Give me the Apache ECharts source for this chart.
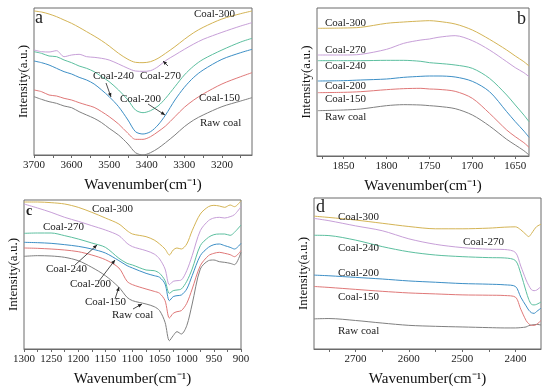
<!DOCTYPE html>
<html><head><meta charset="utf-8">
<script src="https://cdn.jsdelivr.net/npm/echarts@6/dist/echarts.min.js"></script>
<style>html,body{margin:0;padding:0;background:#fff}#c{width:550px;height:388px}</style>
</head><body><div id="c"></div>
<script>
// ---------- DATA ----------
const seriesNames = ['Raw coal','Coal-150','Coal-200','Coal-240','Coal-270','Coal-300'];
const seriesColors = ['#808080','#e07878','#3d8fc6','#5cbf9f','#c79fd8','#d4b455'];

// Panel a (3700-3120)
const waveA = [3700,3680,3660,3640,3620,3600,3580,3560,3540,3520,3500,3475,3450,3430,3410,3390,3370,3350,3325,3300,3275,3250,3200,3150,3120];
const aRaw = [175,167,160,155,147,142,130,120,110,97,80,60,33,7,0,7,20,37,60,85,105,120,145,162,172];
const a150 = [195,190,180,177,170,165,157,150,143,130,115,93,65,47,47,55,70,87,115,143,165,183,213,235,247];
const a200 = [282,277,270,260,250,243,233,225,213,195,175,145,105,70,63,70,90,120,165,203,233,255,287,307,317];
const a240 = [310,305,297,295,285,277,267,260,250,235,220,195,165,135,127,133,147,170,205,240,267,287,315,339,350];
const a270 = [315,310,309,313,295,300,302,295,293,290,285,273,260,252,251,253,265,283,300,317,333,347,368,387,397];
const a300 = [432,429,423,415,405,395,383,370,357,343,327,305,287,278,277,280,290,305,325,347,367,383,408,424,432];
const ticksA = [3700,3600,3500,3400,3300,3200];

// Panel b (1881-1634)
const waveB = [1880,1850,1830,1800,1780,1760,1750,1740,1720,1700,1680,1660,1650,1640,1634];
const bRaw = [136,138,141,151,154,153,151,149,142,123,90,50,33,16,3];
const b150 = [190,191,193,199,202,203,201,200,194,173,128,78,58,40,26];
const b200 = [225,226,228,231,236,239,240,240,237,224,193,133,103,75,56];
const b240 = [286,286,286,287,287,284,280,278,273,263,233,183,153,123,103];
const b270 = [303,303,305,320,338,348,351,356,361,346,318,283,265,250,238];
const b300 = [383,384,386,398,402,405,406,404,396,378,350,318,300,283,270];
const ticksB = [1850,1800,1750,1700,1650];

// Panel c (1300-900)
const waveC = [1300,1275,1250,1225,1200,1175,1150,1125,1110,1100,1075,1060,1050,1040,1032,1025,1018,1010,1000,990,975,960,950,940,930,920,912,900];
const cRaw = [278,280,279,275,265,245,220,185,155,145,135,127,115,80,25,40,52,45,70,135,240,265,267,262,260,257,253,290];
const c150 = [303,302,300,297,292,282,268,243,203,193,180,173,167,145,93,107,112,115,137,180,250,280,287,290,287,283,277,295];
const c200 = [320,319,317,313,308,300,288,265,250,243,227,220,215,195,145,157,160,162,180,220,280,305,313,315,310,305,300,317];
const c240 = [347,348,348,340,330,318,305,272,257,252,237,235,227,205,167,175,177,180,203,240,310,335,343,345,345,341,350,372];
const c270 = [435,423,410,395,383,370,357,340,317,307,295,285,270,240,193,203,205,207,235,280,355,385,393,395,393,397,403,427];
const c300 = [441,441,439,435,425,410,393,375,355,345,337,327,315,300,282,297,303,300,315,355,405,427,431,429,425,432,427,445];
const ticksC = [1300,1250,1200,1150,1100,1050,1000,950,900];

// Panel d (2778-2352)
const waveD = [2778,2750,2700,2650,2600,2550,2500,2450,2420,2400,2390,2380,2375,2370,2365,2360,2352];
const dRaw = [93,94,88,80,73,70,68,66,65,65,66,68,72,74,75,76,74];
const d150 = [193,190,184,178,173,170,167,166,165,160,123,88,78,73,73,76,88];
const d200 = [228,226,221,216,210,206,202,200,198,193,160,133,120,112,110,116,126];
const d240 = [351,350,336,316,300,290,285,282,281,273,233,178,153,138,136,138,145];
const d270 = [403,396,380,365,340,323,313,308,307,298,256,213,196,183,180,182,193];
const d300 = [410,406,398,388,378,371,371,373,376,377,368,353,347,356,368,378,385];
const ticksD = [2700,2600,2500,2400];

// ---------- CHART ----------
const FONT = '"Liberation Serif","Times New Roman",serif';
const panels = [
  {grid:{left:34,top:8,width:218,height:147}, min:3120, max:3700, ymax:441, wave:waveA, sets:[aRaw,a150,a200,a240,a270,a300], ticks:ticksA, minor:[3650,3550,3450,3350,3250,3150]},
  {grid:{left:317,top:8,width:212,height:148}, min:1634, max:1881, ymax:444, wave:waveB, sets:[bRaw,b150,b200,b240,b270,b300], ticks:ticksB, minor:[1875,1825,1775,1725,1675]},
  {grid:{left:24,top:200,width:217,height:149}, min:900, max:1300, ymax:447, wave:waveC, sets:[cRaw,c150,c200,c240,c270,c300], ticks:ticksC, minor:[1275,1225,1175,1125,1075,1025,975,925]},
  {grid:{left:314,top:198,width:227,height:155}, min:2352, max:2778, ymax:466, wave:waveD, sets:[dRaw,d150,d200,d240,d270,d300], ticks:ticksD, minor:[2750,2650,2550,2450]}
];

const grids=[], xAxes=[], yAxes=[], series=[];
panels.forEach((p,i)=>{
  grids.push(Object.assign({show:true, borderColor:'#6a6a6a', borderWidth:1, backgroundColor:'transparent'}, p.grid));
  xAxes.push({
    gridIndex:i, type:'value', inverse:true, min:p.min, max:p.max,
    name:'Wavenumber(cm\u207B\u00B9)', nameLocation:'middle', nameGap:23,
    nameTextStyle:{fontFamily:FONT, fontSize:15, color:'#111'},
    axisLine:{show:true, lineStyle:{color:'#6a6a6a'}},
    axisTick:{show:true, inside:false, length:3, customValues:p.ticks.concat(p.minor), lineStyle:{color:'#6a6a6a'}},
    axisLabel:{show:true, customValues:p.ticks, formatter:(v)=>String(Math.round(v)), fontFamily:FONT, fontSize:11, color:'#222', margin:5},
    splitLine:{show:false}
  });
  yAxes.push({
    gridIndex:i, type:'value', min:0, max:p.ymax,
    name:'Intensity(a.u.)', nameLocation:'middle', nameGap:4,
    nameTextStyle:{fontFamily:FONT, fontSize:13, color:'#111'},
    axisLine:{show:false}, axisTick:{show:false}, axisLabel:{show:false}, splitLine:{show:false}
  });
  p.sets.forEach((vals,k)=>{
    series.push({
      type:'line', name:seriesNames[k], xAxisIndex:i, yAxisIndex:i,
      data:p.wave.map((w,j)=>[w, vals[j]]),
      smooth:0.3, showSymbol:false, symbol:'none',
      lineStyle:{color:seriesColors[k], width:1}, silent:true, animation:false, z:3
    });
  });
});

// ---------- ANNOTATIONS ----------
const graphic = [];
function txt(s, x, y, size, opts){
  graphic.push({type:'text', z:10, style:Object.assign({text:s, x:x, y:y, font:(size||11)+'px '+FONT, fill:'#222', textVerticalAlign:'middle', textAlign:'left'}, opts||{})});
}
function arrow(x1,y1,x2,y2){
  graphic.push({type:'line', z:10, shape:{x1:x1,y1:y1,x2:x2,y2:y2}, style:{stroke:'#222', lineWidth:0.8}});
  const a = Math.atan2(y2-y1, x2-x1), L=4, W=1.8;
  const bx = x2 - L*Math.cos(a), by = y2 - L*Math.sin(a);
  graphic.push({type:'polygon', z:10, shape:{points:[[x2,y2],[bx+W*Math.sin(a), by-W*Math.cos(a)],[bx-W*Math.sin(a), by+W*Math.cos(a)]]}, style:{fill:'#222'}});
}
// panel a
txt('a',35,18,18); txt('Coal-300',194,14); txt('Coal-270',140,76); txt('Coal-240',93,76);
txt('Coal-200',120,99); txt('Coal-150',199,98); txt('Raw coal',200,123);
arrow(168,66,163,61); arrow(106,83,111,97); arrow(148,104,165,115);
// panel b
txt('b',526,19,18,{textAlign:'right'}); txt('Coal-300',325,23); txt('Coal-270',325,50); txt('Coal-240',325,66);
txt('Coal-200',325,86); txt('Coal-150',325,99); txt('Raw coal',325,117);
// panel c
txt('c',26,211,14,{font:'bold 14px '+FONT}); txt('Coal-300',92,209); txt('Coal-270',43,227); txt('Coal-240',46,269);
txt('Coal-200',70,284); txt('Coal-150',85,302); txt('Raw coal',112,315);
arrow(75,265,97,245); arrow(99,281,115,260); arrow(115,299,119,287); arrow(133,309,142,304);
// panel d
txt('d',316,207,18); txt('Coal-300',338,217); txt('Coal-270',463,242); txt('Coal-240',338,248);
txt('Coal-200',338,273); txt('Coal-150',338,297); txt('Raw coal',338,331);

const chart = echarts.init(document.getElementById('c'), null, {renderer:'canvas'});
chart.setOption({
  animation:false, backgroundColor:'#fff',
  textStyle:{fontFamily:FONT},
  grid:grids, xAxis:xAxes, yAxis:yAxes, series:series, graphic:graphic
});
</script></body></html>
